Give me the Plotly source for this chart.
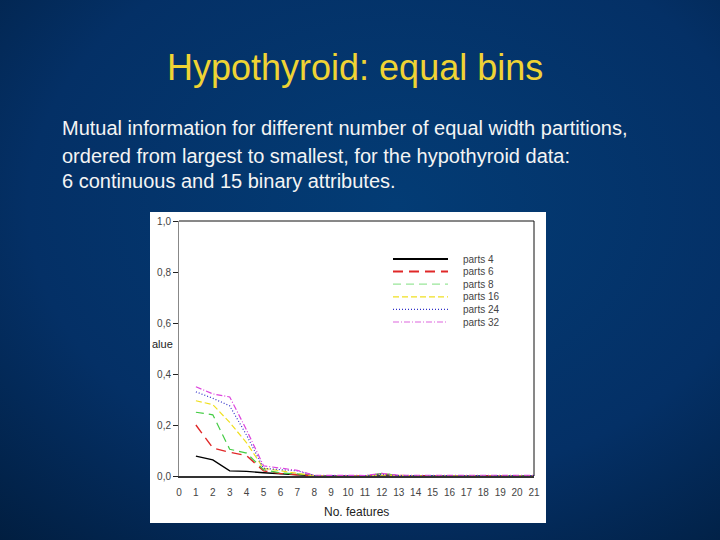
import base64
import plotly.graph_objects as go

# ---- data ----
features = list(range(1, 22))
parts4 = [0.078, 0.063, 0.020, 0.018, 0.013, 0.008, 0.004, 0.001, 0, 0, 0, 0.002, 0, 0, 0, 0, 0, 0, 0, 0, 0]
parts6 = [0.200, 0.110, 0.093, 0.080, 0.020, 0.010, 0.005, 0.001, 0, 0, 0, 0.008, 0.002, 0, 0, 0, 0, 0, 0, 0, 0]
parts8 = [0.250, 0.240, 0.105, 0.090, 0.025, 0.012, 0.008, 0.001, 0, 0, 0, 0.010, 0.002, 0, 0, 0, 0, 0, 0, 0, 0]
parts16 = [0.295, 0.280, 0.210, 0.130, 0.030, 0.020, 0.010, 0.001, 0, 0, 0, 0.004, 0.001, 0, 0, 0, 0, 0, 0, 0, 0]
parts24 = [0.330, 0.305, 0.275, 0.160, 0.030, 0.025, 0.020, 0.002, 0.001, 0.001, 0.001, 0.006, 0.002, 0.002, 0.002, 0.002, 0.002, 0.002, 0.002, 0.002, 0.002]
parts32 = [0.350, 0.322, 0.310, 0.180, 0.040, 0.030, 0.022, 0.003, 0.002, 0.002, 0.002, 0.010, 0.003, 0.003, 0.003, 0.003, 0.003, 0.003, 0.003, 0.003, 0.003]

series_names = ["parts 4", "parts 6", "parts 8", "parts 16", "parts 24", "parts 32"]
series_values = [parts4, parts6, parts8, parts16, parts24, parts32]
series_colors = ["#000000", "#e02828", "#44cc44", "#f0e020", "#2e2ec8", "#dd44dd"]
legend_colors = ["#000000", "#e02828", "#99e699", "#f0e020", "#2e2ec8", "#dd66dd"]
series_dashes = ["solid", "10px,6px", "8px,5px", "6px,3px", "1px,2px", "6px,2px,1px,2px"]
series_widths = [1.4, 1.4, 1.2, 1.2, 1.2, 1.2]
legend_widths = [2.0, 2.0, 1.2, 1.2, 1.2, 1.2]

xticks = list(range(0, 22))
yticks = [0.0, 0.2, 0.4, 0.6, 0.8, 1.0]
ytick_labels = ["0,0", "0,2", "0,4", "0,6", "0,8", "1,0"]

title_text = "Hypothyroid: equal bins"
body_lines = [
    "Mutual information for different number of equal width partitions,",
    "ordered from largest to smallest, for the hypothyroid data:",
    "6 continuous and 15 binary attributes.",
]

# ---- canvas geometry (pixels) ----
W, H = 720, 540
L, R, T, B = 179, 534, 221, 476
pw, ph = R - L, B - T

def px(xp):
    return (xp - L) / pw

def py(yp):
    return (B - yp) / ph

FONT = "Liberation Sans, Arial"

fig = go.Figure()
for name, vals, col, dash, wd in zip(series_names, series_values, series_colors, series_dashes, series_widths):
    fig.add_trace(go.Scatter(x=features, y=vals, mode="lines", name=name,
                             line=dict(color=col, dash=dash, width=wd), showlegend=False))

# background gradient as inline svg
svg = f'''<svg xmlns="http://www.w3.org/2000/svg" width="{W}" height="{H}">
<defs><radialGradient id="g" cx="0.55" cy="0.38" r="0.85">
<stop offset="0" stop-color="#033c75"/><stop offset="0.6" stop-color="#043066"/>
<stop offset="1" stop-color="#011d3e"/></radialGradient></defs>
<rect width="{W}" height="{H}" fill="url(#g)"/></svg>'''
src = "data:image/svg+xml;base64," + base64.b64encode(svg.encode()).decode()

shapes = [
    dict(type="rect", xref="paper", yref="paper", x0=px(150), x1=px(546), y0=py(523), y1=py(212),
         fillcolor="white", line=dict(width=0), layer="below"),
]
annotations = [
    dict(text=title_text, xref="paper", yref="paper", x=px(355), y=py(68), showarrow=False,
         font=dict(family=FONT, size=36, color="#efd334"), xanchor="center", yanchor="middle"),
    dict(text="alue", xref="paper", yref="paper", x=px(150), y=py(344), showarrow=False,
         font=dict(family=FONT, size=11, color="#222"), xanchor="left", yanchor="middle"),
    dict(text="No. features", xref="paper", yref="paper", x=px(356), y=py(512), showarrow=False,
         font=dict(family=FONT, size=12, color="#222"), xanchor="center", yanchor="middle"),
]
for yl, line in zip([128, 156, 181], body_lines):
    annotations.append(dict(text=line, xref="paper", yref="paper", x=px(60), y=py(yl), showarrow=False,
                            font=dict(family=FONT, size=20, color="#f4f4f4"),
                            xanchor="left", yanchor="middle"))

# legend drawn from series lists
leg_y0, leg_dy = 259, 12.6
for i, (name, col, dash, wd) in enumerate(zip(series_names, legend_colors, series_dashes, legend_widths)):
    yy = py(leg_y0 + i * leg_dy)
    shapes.append(dict(type="line", xref="paper", yref="paper", x0=px(393), x1=px(448), y0=yy, y1=yy,
                       line=dict(color=col, dash=dash, width=wd)))
    annotations.append(dict(text=name, xref="paper", yref="paper", x=px(461), y=yy, showarrow=False,
                            font=dict(family=FONT, size=10, color="#444"),
                            xanchor="left", yanchor="middle"))

# top and right frame lines
shapes.append(dict(type="line", xref="paper", yref="paper", x0=0, x1=1, y0=1, y1=1, line=dict(color="#111", width=1)))
shapes.append(dict(type="line", xref="paper", yref="paper", x0=1, x1=1, y0=0, y1=1, line=dict(color="#111", width=1)))

fig.update_layout(
    width=W, height=H,
    margin=dict(l=L, r=W - R, t=T, b=H - B, pad=0),
    paper_bgcolor="#03305f", plot_bgcolor="white",
    images=[dict(source=src, xref="paper", yref="paper", x=px(0), y=py(0), sizex=W / pw, sizey=H / ph,
                 sizing="stretch", xanchor="left", yanchor="top", layer="below")],
    shapes=shapes, annotations=annotations,
    xaxis=dict(range=[0, 21], tickvals=xticks, ticktext=[str(v) for v in xticks], showgrid=False, zeroline=False,
               showline=True, linecolor="#333", linewidth=2, ticks="", ticklen=0, ticklabelstandoff=6,
               tickfont=dict(family=FONT, size=10, color="#444")),
    yaxis=dict(range=[0, 1], tickvals=yticks, ticktext=ytick_labels, showgrid=False, zeroline=False,
               showline=True, linecolor="#888", linewidth=1, ticks="outside", ticklen=5, tickcolor="#222",
               tickfont=dict(family=FONT, size=10, color="#444")),
    showlegend=False,
)

fig.write_html("out.html", config={"displayModeBar": False},
               post_script="document.body.style.margin='0';document.body.style.overflow='hidden';")
